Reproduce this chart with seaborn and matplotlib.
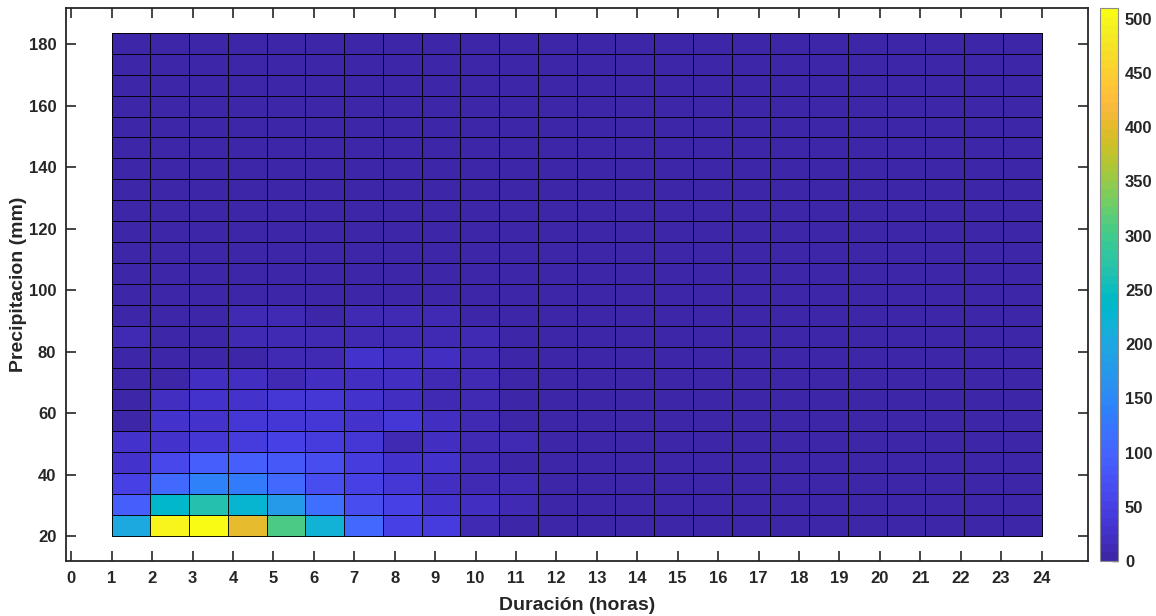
import numpy as np
import pandas as pd
import matplotlib
matplotlib.use("Agg")
import matplotlib.pyplot as plt
import seaborn as sns
from matplotlib.colors import ListedColormap

# Bin edges of the bivariate histogram (24 x 24 bins)
dur_edges = np.linspace(1, 24, 25)
pp_edges = np.linspace(20, 183.8, 25)

# Event counts per precipitation band (lowest band first), one value per duration bin
banda_01 = [200, 495, 510, 405, 308, 218, 109, 49, 45, 10, 6, 5, 4, 4, 3, 3, 3, 3, 2, 2, 2, 2, 2, 2]
banda_02 = [89, 239, 263, 227, 178, 113, 65, 49, 24, 16, 10, 6, 4, 4, 3, 3, 3, 2, 2, 2, 2, 2, 2, 2]
banda_03 = [49, 105, 138, 134, 109, 69, 49, 36, 16, 12, 9, 7, 4, 3, 3, 3, 3, 2, 2, 2, 2, 2, 2, 2]
banda_04 = [28, 57, 93, 89, 81, 65, 40, 28, 28, 12, 6, 5, 4, 3, 3, 3, 2, 2, 2, 2, 2, 2, 2, 2]
banda_05 = [24, 28, 36, 45, 49, 40, 36, 12, 20, 12, 10, 5, 4, 3, 3, 3, 2, 2, 2, 2, 2, 2, 2, 2]
banda_06 = [6, 24, 28, 32, 36, 32, 28, 32, 16, 12, 6, 5, 4, 3, 3, 2, 2, 2, 2, 2, 2, 2, 2, 2]
banda_07 = [7, 16, 24, 24, 32, 32, 24, 20, 12, 12, 6, 4, 3, 3, 3, 2, 2, 2, 2, 2, 2, 2, 2, 2]
banda_08 = [7, 6, 16, 20, 12, 20, 16, 20, 12, 14, 6, 4, 3, 3, 2, 2, 2, 2, 2, 2, 2, 2, 2, 2]
banda_09 = [7, 7, 7, 5, 14, 14, 24, 18, 20, 11, 5, 4, 3, 3, 2, 2, 2, 2, 2, 2, 2, 2, 2, 2]
banda_10 = [9, 7, 7, 14, 14, 8, 14, 14, 12, 9, 5, 4, 3, 3, 2, 2, 2, 2, 2, 2, 2, 2, 2, 2]
banda_11 = [7, 7, 6, 8, 9, 7, 8, 8, 8, 6, 4, 3, 3, 2, 2, 2, 2, 2, 2, 2, 2, 2, 2, 2]
banda_12 = [6, 6, 6, 7, 7, 6, 6, 6, 5, 5, 4, 3, 3, 2, 2, 2, 2, 2, 2, 2, 2, 2, 2, 2]
banda_13 = [5, 5, 5, 6, 6, 5, 5, 5, 5, 4, 3, 3, 2, 2, 2, 2, 2, 2, 2, 2, 2, 2, 2, 2]
banda_14 = [5, 5, 5, 5, 5, 5, 5, 4, 4, 4, 3, 3, 2, 2, 2, 2, 2, 2, 2, 2, 2, 2, 2, 2]
banda_15 = [4, 4, 4, 4, 4, 4, 4, 4, 3, 3, 3, 2, 2, 2, 2, 2, 2, 2, 2, 2, 2, 2, 2, 2]
banda_16 = [4, 4, 4, 4, 4, 4, 3, 3, 3, 3, 2, 2, 2, 2, 2, 2, 2, 2, 2, 2, 2, 2, 2, 2]
banda_17 = [3, 3, 3, 3, 3, 3, 3, 3, 3, 2, 2, 2, 2, 2, 2, 2, 2, 2, 2, 2, 2, 2, 2, 2]
banda_18 = [3, 3, 3, 3, 3, 3, 3, 3, 2, 2, 2, 2, 2, 2, 2, 2, 2, 2, 2, 2, 2, 2, 2, 2]
banda_19 = [3, 3, 3, 3, 3, 3, 2, 2, 2, 2, 2, 2, 2, 2, 2, 2, 2, 2, 2, 2, 2, 2, 2, 2]
banda_20 = [3, 3, 3, 3, 2, 2, 2, 2, 2, 2, 2, 2, 2, 2, 2, 2, 2, 2, 2, 2, 2, 2, 2, 2]
banda_21 = [2, 2, 2, 2, 2, 2, 2, 2, 2, 2, 2, 2, 2, 2, 2, 2, 2, 2, 2, 2, 2, 2, 2, 2]
banda_22 = [2, 2, 2, 2, 2, 2, 2, 2, 2, 2, 2, 2, 2, 2, 2, 2, 2, 2, 2, 2, 2, 2, 2, 2]
banda_23 = [2, 2, 2, 2, 2, 2, 2, 2, 2, 2, 2, 2, 2, 2, 2, 2, 2, 2, 2, 2, 2, 2, 2, 2]
banda_24 = [2, 2, 2, 2, 2, 2, 2, 2, 2, 2, 2, 2, 2, 2, 2, 2, 2, 2, 2, 2, 2, 2, 2, 2]

bandas = [banda_01, banda_02, banda_03, banda_04, banda_05, banda_06, banda_07, banda_08,
          banda_09, banda_10, banda_11, banda_12, banda_13, banda_14, banda_15, banda_16,
          banda_17, banda_18, banda_19, banda_20, banda_21, banda_22, banda_23, banda_24]

x_ticks = list(range(0, 25))
y_ticks = [20, 40, 60, 80, 100, 120, 140, 160, 180]
cbar_ticks = [0, 50, 100, 150, 200, 250, 300, 350, 400, 450, 500]
c_max = 510

# Parula colormap (64 levels)
parula = ListedColormap([
    [0.2422, 0.1504, 0.6603], [0.2504, 0.1650, 0.7076], [0.2578, 0.1818, 0.7511], [0.2647, 0.1978, 0.7952],
    [0.2706, 0.2147, 0.8364], [0.2751, 0.2342, 0.8710], [0.2783, 0.2559, 0.8991], [0.2803, 0.2782, 0.9221],
    [0.2813, 0.3006, 0.9414], [0.2810, 0.3228, 0.9579], [0.2795, 0.3447, 0.9717], [0.2760, 0.3667, 0.9829],
    [0.2699, 0.3892, 0.9906], [0.2602, 0.4123, 0.9952], [0.2440, 0.4358, 0.9988], [0.2206, 0.4603, 0.9973],
    [0.1963, 0.4847, 0.9892], [0.1834, 0.5074, 0.9798], [0.1786, 0.5289, 0.9682], [0.1764, 0.5499, 0.9520],
    [0.1687, 0.5703, 0.9359], [0.1540, 0.5902, 0.9218], [0.1460, 0.6091, 0.9079], [0.1380, 0.6276, 0.8973],
    [0.1248, 0.6459, 0.8883], [0.1113, 0.6635, 0.8763], [0.0952, 0.6798, 0.8598], [0.0689, 0.6948, 0.8394],
    [0.0297, 0.7082, 0.8163], [0.0036, 0.7203, 0.7917], [0.0067, 0.7312, 0.7660], [0.0433, 0.7411, 0.7394],
    [0.0964, 0.7500, 0.7120], [0.1408, 0.7584, 0.6842], [0.1717, 0.7670, 0.6554], [0.1938, 0.7758, 0.6251],
    [0.2161, 0.7843, 0.5923], [0.2470, 0.7918, 0.5567], [0.2906, 0.7973, 0.5188], [0.3406, 0.8008, 0.4789],
    [0.3909, 0.8029, 0.4354], [0.4456, 0.8024, 0.3909], [0.5044, 0.7993, 0.3480], [0.5616, 0.7942, 0.3045],
    [0.6174, 0.7876, 0.2612], [0.6720, 0.7793, 0.2227], [0.7242, 0.7698, 0.1910], [0.7738, 0.7598, 0.1646],
    [0.8203, 0.7498, 0.1535], [0.8634, 0.7406, 0.1596], [0.9035, 0.7330, 0.1774], [0.9393, 0.7288, 0.2100],
    [0.9728, 0.7298, 0.2394], [0.9956, 0.7434, 0.2371], [0.9970, 0.7659, 0.2199], [0.9952, 0.7893, 0.2028],
    [0.9892, 0.8136, 0.1885], [0.9786, 0.8386, 0.1766], [0.9676, 0.8639, 0.1643], [0.9610, 0.8890, 0.1537],
    [0.9597, 0.9135, 0.1423], [0.9628, 0.9373, 0.1265], [0.9691, 0.9606, 0.1064], [0.9769, 0.9839, 0.0805],
], name="parula")

# Long-form table: one row per bin centre, weighted by its count
dur_c = (dur_edges[:-1] + dur_edges[1:]) / 2
pp_c = (pp_edges[:-1] + pp_edges[1:]) / 2
registros = []
for j, fila in enumerate(bandas):
    for i, n in enumerate(fila):
        registros.append((dur_c[i], pp_c[j], n))
df = pd.DataFrame(registros, columns=["duracion", "precipitacion", "n"])

sns.set_style("ticks")
plt.rcParams["font.family"] = ["Liberation Sans", "DejaVu Sans"]
plt.rcParams["font.weight"] = "bold"

ink = "#262626"
fig = plt.figure(figsize=(11.56, 6.16), dpi=100)
ax = fig.add_axes([0.0571, 0.0893, 0.8841, 0.8977])
cax = fig.add_axes([0.9516, 0.0893, 0.0156, 0.8977])

sns.histplot(data=df, x="duracion", y="precipitacion", weights="n",
             bins=[dur_edges, pp_edges], thresh=None, cmap=parula,
             vmin=0, vmax=c_max, edgecolor=(0, 0, 0, 0.9), linewidth=0.45,
             cbar=True, cbar_ax=cax, ax=ax)

ax.set_xlim(-0.13, 25.15)
ax.set_ylim(11.9, 191.8)
ax.set_xticks(x_ticks)
ax.set_yticks(y_ticks)
ax.tick_params(direction="in", length=7, width=1.2, color=ink, labelcolor=ink,
               labelsize=12, top=True, right=True, pad=7)
for lab in ax.get_xticklabels() + ax.get_yticklabels():
    lab.set_fontweight("bold")
for s in ax.spines.values():
    s.set_visible(True)
    s.set_color(ink)
    s.set_linewidth(1.3)
ax.set_xlabel("Duración (horas)", fontsize=14, fontweight="bold", color=ink, labelpad=8)
ax.set_ylabel("Precipitacion (mm)", fontsize=14, fontweight="bold", color=ink, labelpad=1)

cax.set_yticks(cbar_ticks)
cax.tick_params(direction="in", length=4, width=1, color=ink, labelcolor=ink, labelsize=12, pad=5)
for lab in cax.get_yticklabels():
    lab.set_fontweight("bold")
for s in cax.spines.values():
    s.set_color("#8c8c8c")
    s.set_linewidth(0.8)
cb = ax.collections[0].colorbar
if cb is not None:
    cb.outline.set_edgecolor("#8c8c8c")
    cb.outline.set_linewidth(0.8)

fig.savefig("out.png", dpi=100)
